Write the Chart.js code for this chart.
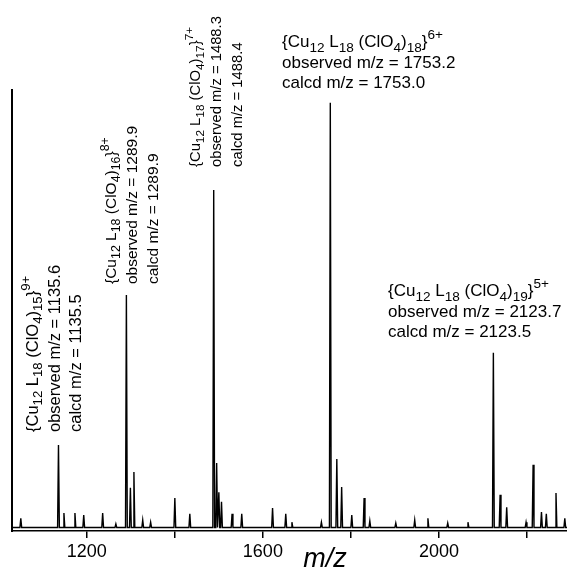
<!DOCTYPE html>
<html>
<head>
<meta charset="utf-8">
<script src="https://cdn.jsdelivr.net/npm/chart.js@4"></script>
<style>
  html, body { margin: 0; padding: 0; background: #fff; }
</style>
</head>
<body>
<canvas id="spectrum" width="567" height="567"></canvas>
<script>
// Peak positions (m/z) and relative intensities
const peakMz = [1050, 1135.6, 1148, 1173, 1193, 1236, 1266, 1289.9, 1299, 1307, 1327, 1345, 1400, 1434,
  1488.3, 1495, 1500, 1506, 1530, 1552, 1622, 1652, 1666, 1733, 1753.2, 1768, 1779, 1802, 1830, 1843,
  1902, 1945, 1975, 2020, 2066, 2123.7, 2139, 2154, 2198, 2214, 2233, 2244, 2266, 2286];
const peakInt = [2.9, 19.5, 4.1, 4.1, 3.6, 4.1, 1.6, 53.5, 9.8, 13.4, 2.5, 2.0, 7.5, 3.9,
  77.3, 15.4, 8.8, 6.6, 3.9, 3.9, 5.2, 3.9, 2.0, 2.0, 97.1, 16.3, 10.0, 3.6, 7.5, 2.3,
  1.8, 2.5, 2.9, 1.8, 2.0, 40.4, 8.2, 5.4, 2.0, 15.0, 4.3, 3.9, 8.6, 2.9];
const baseline = 0.8;

// axis
const tickValues = [1200, 1400, 1600, 1800, 2000, 2200];
const labeledTicks = [1200, 1600, 2000];

// assigned ions
const ionClO4 = [15, 16, 17, 18, 19];
const ionCharge = ["9+", "8+", "7+", "6+", "5+"];
const observedMz = ["1135.6", "1289.9", "1488.3", "1753.2", "2123.7"];
const calcdMz = ["1135.5", "1289.9", "1488.4", "1753.0", "2123.5"];

const FONT = "'Liberation Sans', Arial, sans-serif";

// where each label block sits (baseline of first line, start of text)
const labelPlace = [
  { x: 38, y: 432, size: 16.5, gap: 21.5, rotated: true },
  { x: 116, y: 284, size: 15.5, gap: 21, rotated: true },
  { x: 200, y: 167, size: 14.8, gap: 21, rotated: true },
  { x: 282, y: 47, size: 17, gap: 20.5, rotated: false },
  { x: 388, y: 296, size: 17, gap: 20.5, rotated: false }
];

// build the profile: each peak is a narrow spike on the baseline
const profile = [{ x: 1030, y: baseline }];
peakMz.forEach((mz, i) => {
  profile.push({ x: mz - 2, y: baseline });
  profile.push({ x: mz, y: peakInt[i] });
  profile.push({ x: mz + 2, y: baseline });
});
profile.push({ x: 2291, y: baseline });

function drawRich(ctx, parts, x, y, base) {
  parts.forEach(([text, kind]) => {
    let size = base, dy = 0;
    if (kind === "sub") { size = base * 0.8; dy = base * 0.27; }
    if (kind === "sup") { size = base * 0.8; dy = -base * 0.47; }
    ctx.font = size + "px " + FONT;
    ctx.fillText(text, x, y + dy);
    x += ctx.measureText(text).width;
  });
}

function formula(n, charge) {
  return [["{Cu"], ["12", "sub"], [" L"], ["18", "sub"], [" (ClO"], ["4", "sub"], [")"],
    [String(n), "sub"], ["}"], [charge, "sup"]];
}

const labelPlugin = {
  id: "ionLabels",
  afterDraw(chart) {
    const ctx = chart.ctx;
    ctx.save();
    ctx.fillStyle = "#000";
    ctx.textBaseline = "alphabetic";
    ctx.textAlign = "left";
    labelPlace.forEach((p, i) => {
      const lines = [
        formula(ionClO4[i], ionCharge[i]),
        [["observed m/z = " + observedMz[i]]],
        [["calcd m/z = " + calcdMz[i]]]
      ];
      ctx.save();
      ctx.translate(p.x, p.y);
      if (p.rotated) ctx.rotate(-Math.PI / 2);
      lines.forEach((parts, k) => drawRich(ctx, parts, 0, k * p.gap, p.size));
      ctx.restore();
    });
    // axis title
    ctx.font = "italic 27px " + FONT;
    ctx.textAlign = "center";
    ctx.fillText("m/z", 325, 567);
    ctx.restore();
  }
};

new Chart(document.getElementById("spectrum"), {
  type: "line",
  data: {
    datasets: [{
      data: profile,
      borderColor: "#000",
      borderWidth: 1.4,
      pointRadius: 0,
      tension: 0,
      fill: false
    }]
  },
  options: {
    responsive: false,
    animation: false,
    layout: { padding: { left: 12, top: 90, right: 0, bottom: 0 } },
    plugins: { legend: { display: false }, tooltip: { enabled: false } },
    scales: {
      x: {
        type: "linear",
        min: 1030,
        max: 2291,
        afterBuildTicks: (scale) => { scale.ticks = tickValues.map((v) => ({ value: v })); },
        afterFit: (scale) => { scale.height = 36; },
        ticks: {
          callback: (v) => (labeledTicks.includes(v) ? String(v) : ""),
          font: { size: 18, family: FONT },
          color: "#000",
          padding: 3,
          maxRotation: 0,
          autoSkip: false
        },
        grid: { drawOnChartArea: false, color: "#000", lineWidth: 1.5, tickLength: 7 },
        border: { color: "#000", width: 1.5 }
      },
      y: {
        min: 0,
        max: 100,
        afterFit: (scale) => { scale.width = 0; },
        ticks: { display: false },
        grid: { display: false },
        border: { color: "#000", width: 2 }
      }
    }
  },
  plugins: [labelPlugin]
});
</script>
</body>
</html>
